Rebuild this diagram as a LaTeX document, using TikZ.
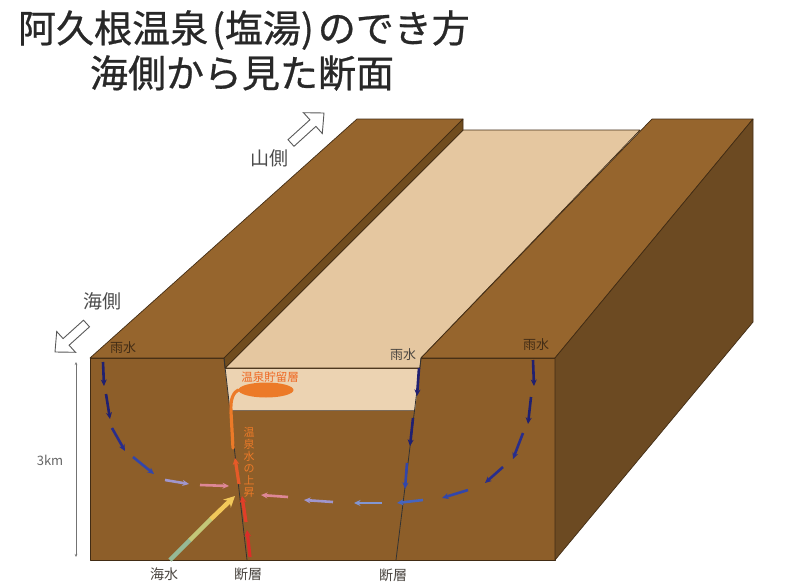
\documentclass[tikz,border=0pt]{standalone}
\usepackage{fontspec}
\setmainfont{Noto Sans CJK JP}
\newfontfamily\headfont[FakeBold=0.7]{Noto Sans CJK JP}
\usetikzlibrary{arrows.meta,shapes.geometric}

% ground colours
\definecolor{frontbrown}{RGB}{141,94,41}
\definecolor{topbrown}{RGB}{150,101,45}
\definecolor{sidebrown}{RGB}{108,74,34}
\definecolor{stripbrown}{RGB}{112,76,30}
\definecolor{edgebrown}{RGB}{66,44,20}
\definecolor{sandtop}{RGB}{229,199,160}
\definecolor{sandfront}{RGB}{236,211,178}
% water colours
\definecolor{navy}{RGB}{32,32,112}
\definecolor{navyb}{RGB}{40,45,140}
\definecolor{bluea}{RGB}{50,70,170}
\definecolor{blueb}{RGB}{70,100,190}
\definecolor{paleblue}{RGB}{130,150,210}
\definecolor{lavender}{RGB}{160,150,205}
\definecolor{pinkw}{RGB}{222,135,150}
\definecolor{hotred}{RGB}{220,45,40}
\definecolor{hotredb}{RGB}{226,62,40}
\definecolor{hotorange}{RGB}{230,90,40}
\definecolor{spring}{RGB}{236,122,40}
\definecolor{seaA}{RGB}{150,185,150}
\definecolor{seaB}{RGB}{195,200,120}
\definecolor{seaC}{RGB}{242,200,90}
\definecolor{inktext}{RGB}{40,40,40}
\definecolor{labeltext}{RGB}{75,70,65}

\tikzset{
  face/.style={draw=edgebrown, line width=0.7pt, line join=round},
  rain/.style={line width=2.6pt, -{Stealth[length=6.5pt,width=6pt]}},
  hot/.style={line width=3.2pt, -{Stealth[length=6.5pt,width=6.5pt]}},
  dirarrow/.style={draw=black!65, fill=white, line width=0.9pt, line join=miter},
  lbl/.style={text=labeltext, inner sep=0pt, font=\fontsize{13}{13}\selectfont},
  heading/.style={text=inktext, inner sep=0pt, font=\headfont\fontsize{38}{38}\selectfont},
}

\begin{document}
\begin{tikzpicture}[x=1pt,y=-1pt]
\useasboundingbox (0,0) rectangle (787,586);
\fill[white] (0,0) rectangle (787,586);

% ---- title ----
\node[heading] (title1) at (244,30) {阿久根温泉\hspace{4pt}(塩湯)\hspace{4pt}のでき方};
\node[heading] (title2) at (242,73) {海側から見た断面};

% ---- block diagram ----
% front section
\fill[face, fill=frontbrown] (90,358) rectangle (555,560);
% sediment band on the front of the valley
\fill[fill=sandfront] (225,368) -- (420,368) -- (415,410) -- (230,410) -- cycle;
\draw[edgebrown, line width=0.7pt] (225,368) -- (420,368);
\draw[edgebrown!70, line width=0.5pt] (230,410) -- (415,410);
% valley floor
\fill[face, fill=sandtop] (463,130) -- (640,130) -- (421,358) -- (420,368) -- (225,368) -- cycle;
% left block: top and the face looking on the valley
\fill[face, fill=topbrown] (357,119) -- (463,119) -- (224,358) -- (90,358) -- cycle;
\fill[face, fill=stripbrown] (463,119) -- (463,130) -- (225,368) -- (224,358) -- cycle;
% right block: top and side
\fill[face, fill=topbrown] (652,119) -- (753,119) -- (555,358) -- (421,358) -- cycle;
\fill[face, fill=sidebrown] (753,119) -- (753,322) -- (555,560) -- (555,358) -- cycle;

% faults
\coordinate (fltL top) at (224,358);
\coordinate (fltL bot) at (247,560);
\coordinate (fltR top) at (421,358);
\coordinate (fltR bot) at (396,560);
\draw[black!80, line width=0.8pt] (fltL top) -- (fltL bot);
\draw[black!80, line width=0.8pt] (fltR top) -- (fltR bot);

% ---- rain water paths ----
\foreach \a/\b/\c in {
  {(103,362)}/{(104,386)}/navy,
  {(106,394)}/{(110,419)}/navy,
  {(112,428)}/{(125,451)}/navyb,
  {(133,457)}/{(154,474)}/bluea,
  {(165,480)}/{(189,484)}/lavender,
  {(200,485)}/{(229,486)}/pinkw}
  \draw[rain, \c] \a -- \b;

\foreach \a/\b/\c in {
  {(533,360)}/{(534,386)}/navy,
  {(531,397)}/{(528,424)}/navy,
  {(523,433)}/{(513,459)}/navyb,
  {(503,467)}/{(485,483)}/navyb,
  {(468,490)}/{(442,498)}/bluea,
  {(423,500)}/{(397,503)}/blueb,
  {(382,503)}/{(354,503)}/paleblue,
  {(333,502)}/{(304,500)}/lavender,
  {(288,497)}/{(261,495)}/pinkw}
  \draw[rain, \c] \a -- \b;

\foreach \a/\b/\c in {
  {(419,368)}/{(417,396)}/navy,
  {(413,418)}/{(410,446)}/navy,
  {(407,463)}/{(405,489)}/bluea}
  \draw[rain, \c] \a -- \b;

% ---- hot spring water rising along the fault ----
\node[ellipse, fill=spring, minimum width=55pt, minimum height=15pt, inner sep=0pt, draw=none] (reservoir) at (266,390) {};
\draw[spring, line width=3.2pt, line cap=round] (233,448) -- (231,412) .. controls (230,398) and (234,392) .. (reservoir.west);
\draw[hot, hotorange] (239,484) -- (235,458);
\draw[hot, hotredb] (246,522) -- (242,496);
\draw[hot, hotred] (250,557) -- (247,530);

% ---- sea water entering from below ----
\draw[seaA, line width=4.5pt] (170,560) -- (191,539);
\draw[seaB, line width=4.5pt] (190,540) -- (212,518);
\draw[seaC, line width=4.5pt, -{Stealth[length=11pt,width=11pt]}] (211,519) -- (235,496);

% ---- labels ----
\node[text=spring!85!red, inner sep=0pt, font=\fontsize{11.5}{11.5}\selectfont] (reslbl) at (270,377) {温泉貯留層};
\node[text=spring, inner sep=0pt, align=center, font=\fontsize{11}{12}\selectfont] (risinglbl) at (249,462) {温\\泉\\水\\の\\上\\昇};
\node[lbl, text=black!65!brown] (rainL) at (123,348) {雨水};
\node[lbl] (rainM) at (403,355) {雨水};
\node[lbl, text=black!65!brown] (rainR) at (536,345) {雨水};
\node[lbl, font=\fontsize{14}{14}\selectfont] (sealbl) at (164,574) {海水};
\node[lbl, font=\fontsize{14}{14}\selectfont] (faultL) at (248,574) {断層};
\node[lbl, font=\fontsize{14}{14}\selectfont] (faultR) at (393,575) {断層};

% depth scale
\coordinate (scale top) at (76,362);
\coordinate (scale bot) at (76,557);
\draw[black!55, line width=0.7pt, {Stealth[length=3pt,width=2.5pt]}-{Stealth[length=3pt,width=2.5pt]}] (scale top) -- (scale bot);
\node[lbl, text=black!60, font=\fontsize{13}{13}\selectfont] (depth) at (50,460) {3km};

% direction markers
\node[lbl, text=black!70, font=\fontsize{19}{19}\selectfont] (mountain) at (269,158) {山側};
\draw[dirarrow] (288.0,139.7) -- (309.9,119.8) -- (303.5,112.7) -- (324,113) -- (322.3,133.5) -- (315.9,126.4) -- (294.0,146.3) -- cycle;
\node[lbl, text=black!70, font=\fontsize{19}{19}\selectfont] (sea) at (102,301) {海側};
\draw[dirarrow] (83.5,320.2) -- (63.1,338.6) -- (56.7,331.5) -- (55,352) -- (75.5,352.3) -- (69.1,345.2) -- (89.5,326.8) -- cycle;
\end{tikzpicture}
\end{document}
